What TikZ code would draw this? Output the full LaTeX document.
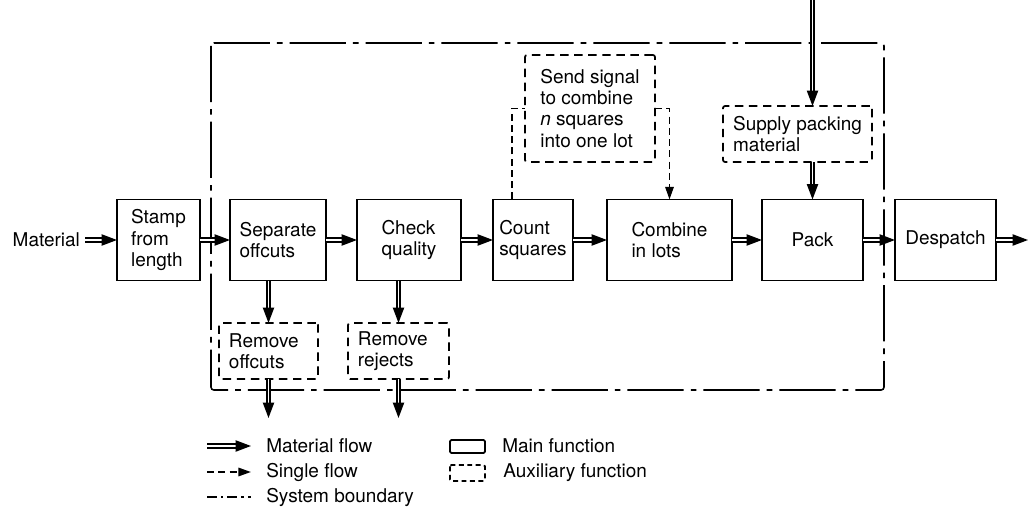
\documentclass[tikz,border=0pt]{standalone}
\usepackage{fontspec}
\setmainfont{TeX Gyre Heros}
\usepackage{tikz}
\usetikzlibrary{arrows.meta}

\begin{document}
\begin{tikzpicture}[x=0.025cm, y=-0.025cm, font=\fontsize{13.5}{15}\selectfont]
    \tikzstyle{mainbox}=[draw, line width=1.4pt, align=left, minimum height=2.025cm, inner sep=0pt, outer sep=0pt]
    \tikzstyle{auxbox}=[draw, line width=1.2pt, dash pattern=on 6pt off 4pt, rounded corners=1.5pt, align=left, minimum height=1.4cm, inner sep=0pt, outer sep=0pt]
    \tikzstyle{matflow}=[double, line width=1.1pt, double distance=1.4pt, -{Triangle[length=11pt,width=8pt]}]
    \tikzstyle{sigflow}=[line width=1.3pt, dash pattern=on 5pt off 3pt, -{Triangle[length=9pt,width=6pt]}]
    \tikzstyle{boundary}=[line width=1.1pt, dash pattern=on 40pt off 5pt on 4pt off 5pt, rounded corners=2pt]
    \useasboundingbox (0,0) rectangle (1034,512);

    % main functions
    \node[anchor=east, inner xsep=0.12cm] (mat) at (85,240) {Material};
    \node[mainbox, minimum width=2.075cm] (stamp) at (158.5,240) {Stamp\\from\\length};
    \node[mainbox, minimum width=2.4cm] (sep) at (278,240) {Separate\\offcuts};
    \node[mainbox, minimum width=2.6cm] (chk) at (409,240) {Check\\quality};
    \node[mainbox, minimum width=2.0cm] (cnt) at (533,240) {Count\\squares};
    \node[mainbox, minimum width=3.125cm] (comb) at (669.5,240) {Combine\\in lots};
    \node[mainbox, minimum width=2.525cm] (pack) at (812.5,240) {Pack};
    \node[mainbox, minimum width=2.525cm] (desp) at (945.5,240) {Despatch};
    \coordinate (out) at (1028,240);

    % auxiliary functions
    \node[auxbox, minimum width=3.25cm, minimum height=2.675cm] (sig) at (590,108.5) {Send signal\\to combine\\\textit{n} squares\\into one lot};
    \node[auxbox, minimum width=3.725cm] (sup) at (797.5,134) {Supply packing\\material};
    \node[auxbox, text width=1.975cm, inner xsep=0.25cm] (offc) at (268.5,351) {Remove\\offcuts};
    \node[auxbox, text width=2.025cm, inner xsep=0.25cm] (rej) at (398.5,351) {Remove\\rejects};
    \coordinate (pkgin) at (812.5,0);
    \coordinate (offout) at (268.5,418);
    \coordinate (rejout) at (398.5,418);

    % system boundary
    \draw[boundary] (211,43) rectangle (884,390);

    % material flow
    \draw[matflow] (mat) -- (stamp);
    \draw[matflow] (stamp) -- (sep);
    \draw[matflow] (sep) -- (chk);
    \draw[matflow] (chk) -- (cnt);
    \draw[matflow] (cnt) -- (comb);
    \draw[matflow] (comb) -- (pack);
    \draw[matflow] (pack) -- (desp);
    \draw[matflow] (desp) -- (out);
    \draw[matflow] (offc.north |- sep.south) -- (offc.north);
    \draw[matflow] (rej.north |- chk.south) -- (rej.north);
    \draw[matflow] (offc.south) -- (offout);
    \draw[matflow] (rej.south) -- (rejout);
    \draw[matflow] (pkgin) -- (pkgin |- sup.north);
    \draw[matflow] (pack.north |- sup.south) -- (pack.north);

    % signal flow
    \draw[sigflow, -] ([xshift=-0.525cm]cnt.north) |- (sig.west);
    \draw[sigflow] (sig.east) -| (comb.north);

    % legend
    \draw[matflow] (207,446) -- (251,446);
    \draw[sigflow] (207,472) -- (251,472);
    \draw[line width=1.1pt, dash pattern=on 7pt off 3pt on 1.5pt off 3pt] (207,497) -- (251,497);
    \node[anchor=west, inner sep=0pt] (lmat) at (266,446) {Material flow};
    \node[anchor=west, inner sep=0pt] (lsig) at (266,472) {Single flow};
    \node[anchor=west, inner sep=0pt] (lbnd) at (266,497) {System boundary};
    \draw[line width=1.3pt, rounded corners=1pt] (450,440) rectangle (485,453);
    \draw[line width=1.2pt, dash pattern=on 3.5pt off 2.5pt, rounded corners=1pt] (450,465) rectangle (485,481);
    \node[anchor=west, inner sep=0pt] (lmain) at (502,446) {Main function};
    \node[anchor=west, inner sep=0pt] (laux) at (503,473) {Auxiliary function};
\end{tikzpicture}
\end{document}
